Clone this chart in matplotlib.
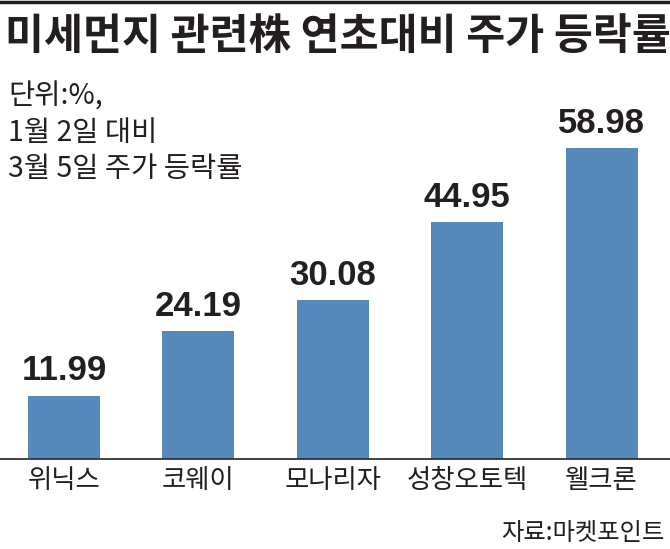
import matplotlib
matplotlib.use('Agg')
import matplotlib.pyplot as plt
from matplotlib.lines import Line2D
from matplotlib import font_manager

names = ['위닉스', '코웨이', '모나리자', '성창오토텍', '웰크론']
values = [11.99, 24.19, 30.08, 44.95, 58.98]
title = '미세먼지 관련株 연초대비 주가 등락률'
note = ['단위:%,', '1월 2일 대비', '3월 5일 주가 등락률']
source = '자료:마켓포인트'

kr = ['Noto Sans CJK KR', 'DejaVu Sans']
avail = {f.name for f in font_manager.fontManager.ttflist}
num_font = 'Liberation Sans Narrow' if 'Liberation Sans Narrow' in avail else 'Liberation Sans'

W, H = 670, 549
fig = plt.figure(figsize=(W / 100, H / 100), dpi=100)

# axes in pixel terms
base_px = 459
top_px = 60
ax = fig.add_axes([0, (H - base_px) / H, 1, (base_px - top_px) / H])
spacing = 134.4
c0 = 64
ax.set_xlim(-c0 / spacing, (W - c0) / spacing)
ax.set_ylim(0, (base_px - top_px) / 5.273)

x = list(range(len(values)))
bars = ax.bar(x, values, width=72 / spacing, color='#5589B9')
for xi, v in zip(x, values):
    ax.annotate(f'{v:.2f}', (xi, v), xytext=(0, 11), textcoords='offset points',
                ha='center', va='baseline', fontsize=25, fontweight='bold',
                family=num_font, color='#231f20')

for s in ['top', 'left', 'right']:
    ax.spines[s].set_visible(False)
ax.spines['bottom'].set_color('#333333')
ax.spines['bottom'].set_linewidth(1.3)
ax.set_yticks([])
ax.set_xticks(x)
ax.set_xticklabels(names, fontsize=19, family=kr, color='#231f20')
ax.tick_params(axis='x', length=0, pad=6)

# top rule
fig.add_artist(Line2D([0, 1], [1 - 1.5 / H, 1 - 1.5 / H], color='#231f20', lw=2.5))

fig.text(5 / W, 1 - 37 / H, title, fontsize=30.5, fontweight='bold', family=kr,
         ha='left', va='center', color='#231f20')
for i, line in enumerate(note):
    fig.text(8 / W, 1 - (105 + i * 36) / H, line, fontsize=20.5, family=kr,
             ha='left', va='baseline', color='#231f20')
fig.text(665 / W, 1 - 540 / H, source, fontsize=17.5, family=kr,
         ha='right', va='baseline', color='#231f20')

fig.savefig('out.png', dpi=100)
